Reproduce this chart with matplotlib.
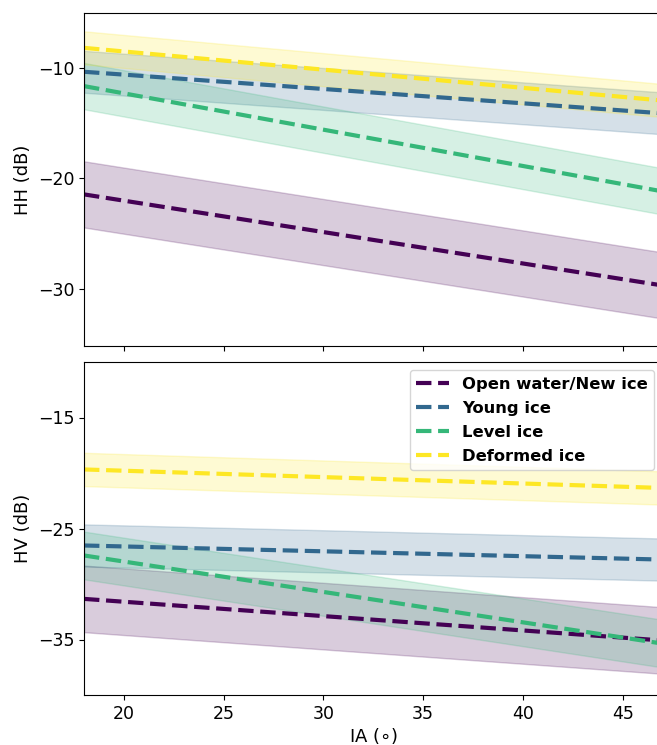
import matplotlib
matplotlib.use("Agg")
import matplotlib.pyplot as plt
import numpy as np

# Incidence angle end points of the fitted lines
ia = [18, 47]

classes = ["Open water/New ice", "Young ice", "Level ice", "Deformed ice"]
colors = ["#440154", "#31688e", "#35b779", "#fde725"]

# HH mean (dB) at ia end points, and band half-width (std)
hh_open = [-21.45, -29.71]
hh_young = [-10.33, -14.10]
hh_level = [-11.63, -21.18]
hh_deformed = [-8.16, -12.94]
hh_std = [3.0, 1.9, 2.1, 1.5]

# HV mean (dB) at ia end points, and band half-width (std)
hv_open = [-31.34, -35.09]
hv_young = [-26.53, -27.80]
hv_level = [-27.43, -35.37]
hv_deformed = [-19.68, -21.35]
hv_std = [3.0, 1.9, 2.15, 1.5]

hh_means = [hh_open, hh_young, hh_level, hh_deformed]
hv_means = [hv_open, hv_young, hv_level, hv_deformed]

fig = plt.figure(figsize=(6.57, 7.45), dpi=100)
left = 84 / 657
width = (662.6 - 84) / 657
ax1 = fig.add_axes([left, 1 - 346 / 745, width, 333 / 745])
ax2 = fig.add_axes([left, 1 - 695 / 745, width, 333 / 745], sharex=ax1)

x = np.array(ia, dtype=float)
for ax, means, stds in [(ax1, hh_means, hh_std), (ax2, hv_means, hv_std)]:
    for name, m, s, c in zip(classes, means, stds, colors):
        m = np.array(m)
        ax.fill_between(x, m - s, m + s, color=c, alpha=0.2, linewidth=1)
        ax.plot(x, m, linestyle="--", color=c, linewidth=3, label=name)

ax1.set_xlim(18, 47)
ax1.set_ylim(-35.2, -5)
ax2.set_ylim(-40, -10)
ax1.set_yticks([-30, -20, -10])
ax2.set_yticks([-35, -25, -15])
ax1.set_xticks([20, 25, 30, 35, 40, 45])
ax1.tick_params(labelbottom=False, labelsize=12.5)
ax2.tick_params(labelsize=12.5)
ax1.set_ylabel("HH (dB)", fontsize=13)
ax2.set_ylabel("HV (dB)", fontsize=13)
ax2.set_xlabel(r"IA ($\circ$)", fontsize=13, labelpad=2)

ax2.legend(loc="upper right", prop={"weight": "bold", "size": 11.8},
           labelspacing=0.55, handletextpad=0.8)

fig.savefig("out.png", dpi=100)
